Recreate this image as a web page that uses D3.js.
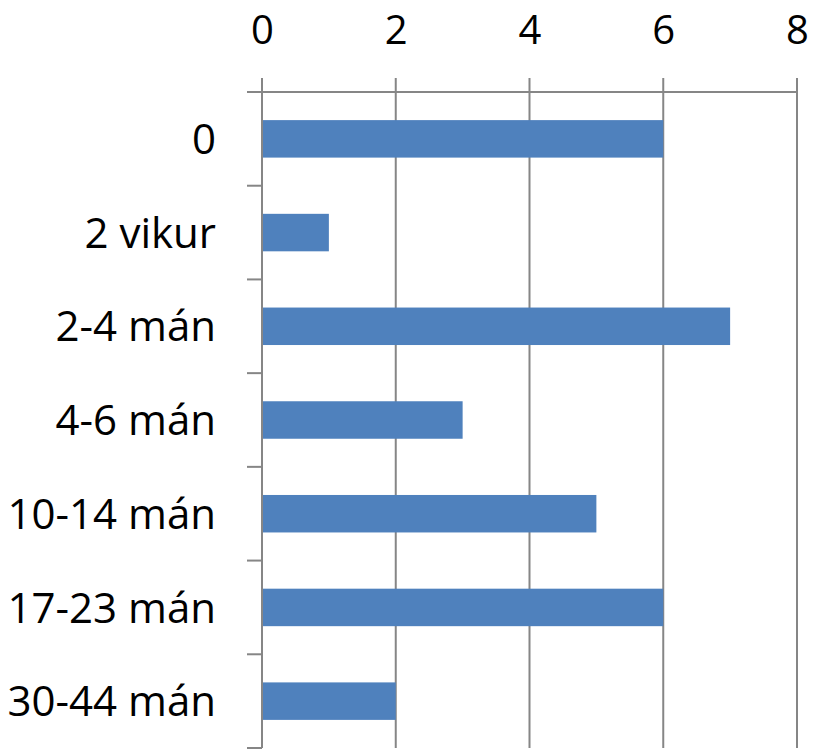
<!DOCTYPE html>
<html>
<head>
<meta charset="utf-8">
<script src="https://cdn.jsdelivr.net/npm/d3@7"></script>
<style>
  body { margin: 0; background: #fff; }
  text { font-family: "Open Sans", sans-serif; fill: #000; }
</style>
</head>
<body>
<div id="chart"></div>
<script>
var categories = ["0", "2 vikur", "2-4 mán", "4-6 mán", "10-14 mán", "17-23 mán", "30-44 mán"];
var values = [6, 1, 7, 3, 5, 6, 2];
var xTicks = [0, 2, 4, 6, 8];

var W = 813, H = 752;
var margin = {top: 92, right: 16, bottom: 4, left: 262};
var width = W - margin.left - margin.right;
var height = H - margin.top - margin.bottom;
var lineColor = "#868686";
var fontSize = 42;

var svg = d3.select("#chart").append("svg").attr("width", W).attr("height", H);
var g = svg.append("g").attr("transform", "translate(" + margin.left + "," + margin.top + ")");

var x = d3.scaleLinear().domain([0, 8]).range([0, width]);
var y = d3.scaleBand().domain(categories).range([0, height]).paddingInner(0.6).paddingOuter(0.3);

// vertical gridlines, extended up as outside ticks
g.append("g").selectAll("line").data(xTicks).enter().append("line")
  .attr("x1", function(d){ return x(d); }).attr("x2", function(d){ return x(d); })
  .attr("y1", -14).attr("y2", height)
  .attr("stroke", lineColor).attr("stroke-width", 2);

// bars
g.append("g").selectAll("rect").data(values).enter().append("rect")
  .attr("x", x(0))
  .attr("y", function(d, i){ return y(categories[i]); })
  .attr("width", function(d){ return x(d) - x(0); })
  .attr("height", y.bandwidth())
  .attr("fill", "#4F81BD");

// value axis on top
var xAxis = d3.axisTop(x).tickValues(xTicks).tickSize(0).tickPadding(48);
var xg = g.append("g").call(xAxis);
xg.select(".domain").remove();
xg.selectAll("text").style("font-size", "40px").style("font-family", "'Open Sans', sans-serif");

// top axis line
g.append("line").attr("x1", -15).attr("x2", width).attr("y1", 0).attr("y2", 0)
  .attr("stroke", lineColor).attr("stroke-width", 2);

// category axis line + boundary ticks
g.append("line").attr("x1", 0).attr("x2", 0).attr("y1", 0).attr("y2", height)
  .attr("stroke", lineColor).attr("stroke-width", 2);
var bounds = categories.map(function(c, i){ return (i + 1) * height / categories.length; });
g.append("g").selectAll("line").data(bounds).enter().append("line")
  .attr("x1", -15).attr("x2", 0)
  .attr("y1", function(d){ return d; }).attr("y2", function(d){ return d; })
  .attr("stroke", lineColor).attr("stroke-width", 2);

// category labels
g.append("g").selectAll("text").data(categories).enter().append("text")
  .attr("x", -46)
  .attr("y", function(d){ return y(d) + y.bandwidth() / 2; })
  .attr("dy", "0.36em")
  .attr("text-anchor", "end")
  .style("font-size", fontSize + "px")
  .text(function(d){ return d; });
</script>
</body>
</html>
